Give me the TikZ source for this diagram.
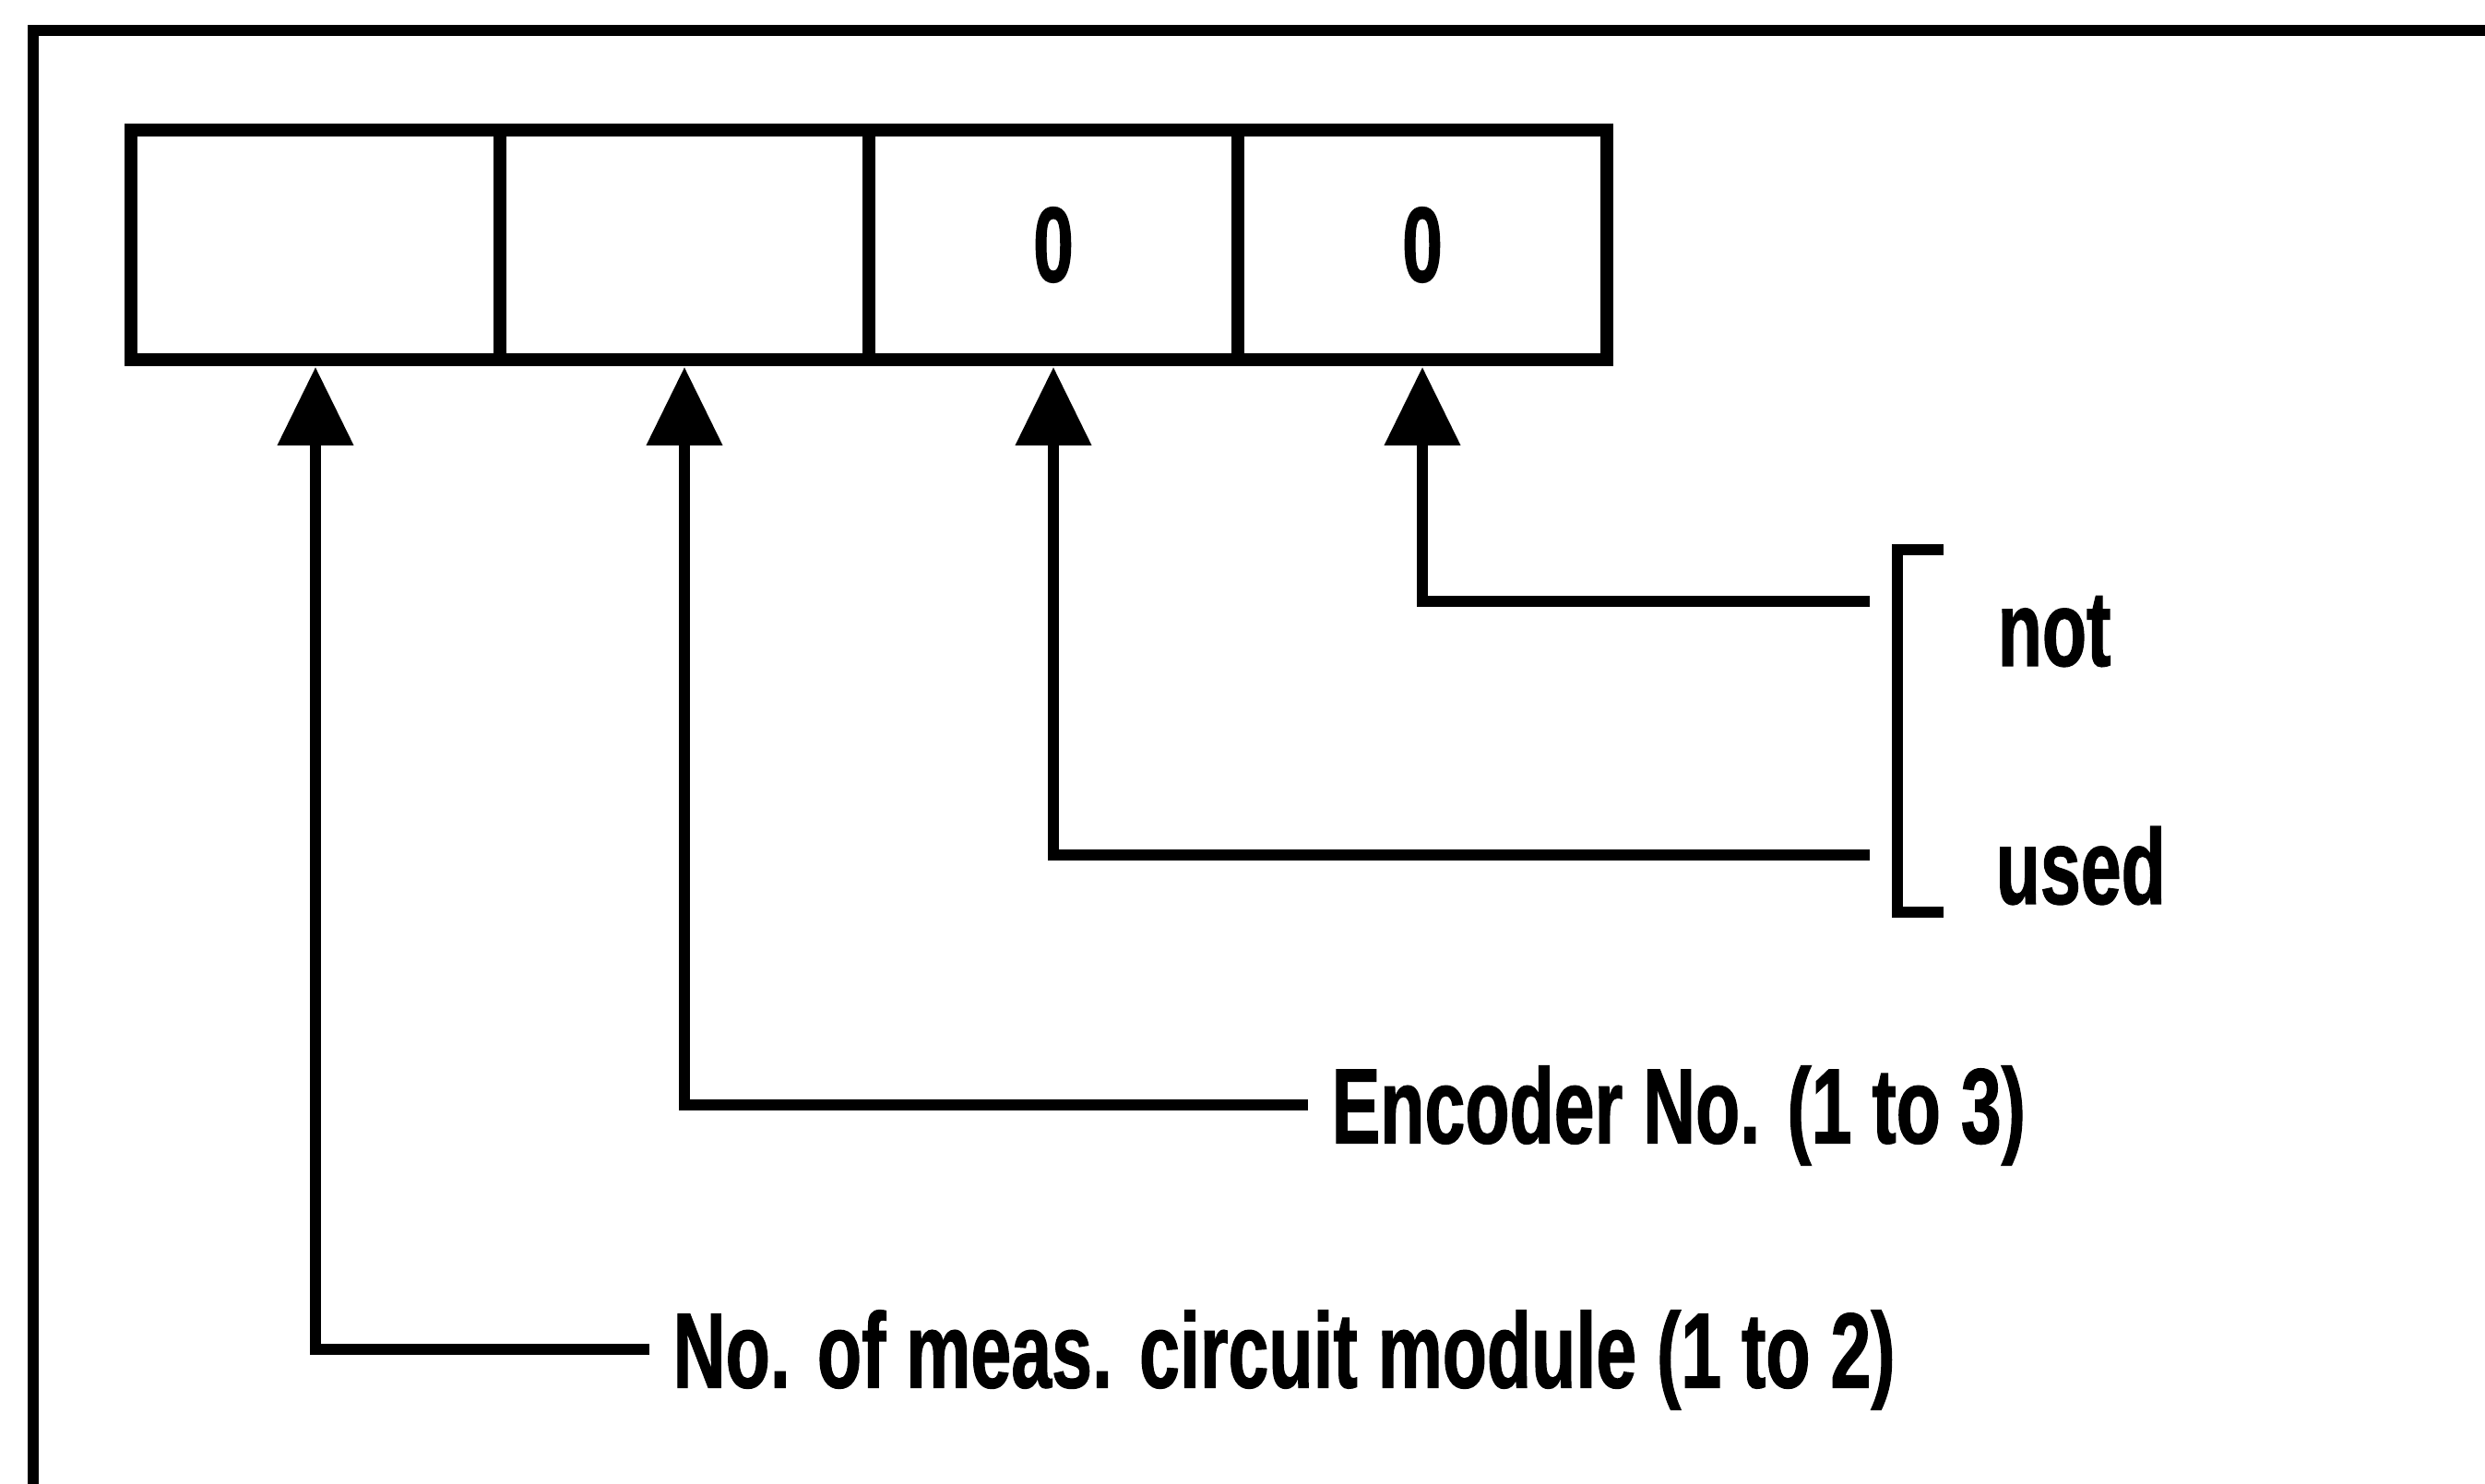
\documentclass[tikz,border=0pt]{standalone}
\usepackage{fontspec}
\newfontfamily\condfont[FakeStretch=0.68,FakeBold=1]{Liberation Sans}
\usetikzlibrary{arrows.meta}

\begin{document}
\begin{tikzpicture}[x=1cm,y=1cm,font=\condfont\bfseries\fontsize{33pt}{36pt}\selectfont,
 cell/.style={draw,line width=4.2pt,minimum width=4cm,minimum height=2.49cm,inner sep=0pt,outer sep=0pt},
 feed/.style={line width=3.2pt,-{Triangle[width=0.8cm,length=0.85cm]},shorten >=0.08cm},
 lbl/.style={anchor=west,inner xsep=0.25cm,inner ysep=0pt,text height=0.83cm,text depth=0pt},
 word/.style={anchor=base west,inner sep=0pt},
 frameline/.style={line width=3.2pt}]
\useasboundingbox (0,0) rectangle (26.94,16.08);
\draw[frameline] (0.36,-0.3) |- (27.3,15.75);
\node[cell] (c1) at (3.42,13.425) {};
\node[cell] (c2) at (7.42,13.425) {};
\node[cell] (c3) at (11.42,13.425) {0};
\node[cell] (c4) at (15.42,13.425) {0};
\node[lbl] (meas) at (7.04,1.45) {No. of meas. circuit module (1 to 2)};
\node[lbl] (enc) at (14.18,4.10) {Encoder No. (1 to 3)};
\node[word] (not) at (21.65,8.86) {not};
\node[word] (used) at (21.63,6.28) {used};
\coordinate (nend) at (20.27,9.56);
\coordinate (uend) at (20.27,6.81);
\draw[line width=3.6pt] (21.07,10.12) -- (20.57,10.12) -- (20.57,6.19) -- (21.07,6.19);
\draw[feed] (nend) -| (c4.south);
\draw[feed] (uend) -| (c3.south);
\draw[feed] (enc.west) -| (c2.south);
\draw[feed] (meas.west) -| (c1.south);
\end{tikzpicture}
\end{document}
